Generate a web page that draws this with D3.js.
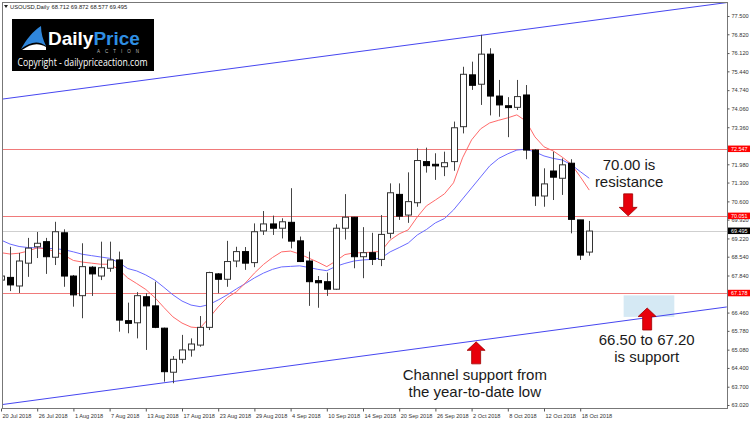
<!DOCTYPE html>
<html lang="en">
<head>
<meta charset="UTF-8">
<title>USOUSD Daily</title>
<script src="https://d3js.org/d3.v7.min.js"></script>
<style>
  body { margin: 0; background: #fff; }
  svg { display: block; font-family: "Liberation Sans", Arial, sans-serif; }
  .axis path { display: none; }
  .axis line { stroke: #555; }
  .axis text { font-size: 5.6px; fill: #333; }
  .note { font-size: 15px; fill: #1a1a1a; }
</style>
</head>
<body>
<div id="chart"></div>
<script>
// one entry per daily bar
const dates = ["20 Jul 2018","23 Jul 2018","24 Jul 2018","25 Jul 2018","26 Jul 2018","27 Jul 2018","30 Jul 2018","31 Jul 2018",
  "1 Aug 2018","2 Aug 2018","3 Aug 2018","6 Aug 2018","7 Aug 2018","8 Aug 2018","9 Aug 2018","10 Aug 2018",
  "13 Aug 2018","14 Aug 2018","15 Aug 2018","16 Aug 2018","17 Aug 2018","20 Aug 2018","21 Aug 2018","22 Aug 2018",
  "23 Aug 2018","24 Aug 2018","27 Aug 2018","28 Aug 2018","29 Aug 2018","30 Aug 2018","31 Aug 2018","3 Sep 2018",
  "4 Sep 2018","5 Sep 2018","6 Sep 2018","7 Sep 2018","10 Sep 2018","11 Sep 2018","12 Sep 2018","13 Sep 2018",
  "14 Sep 2018","17 Sep 2018","18 Sep 2018","19 Sep 2018","20 Sep 2018","21 Sep 2018","24 Sep 2018","25 Sep 2018",
  "26 Sep 2018","27 Sep 2018","28 Sep 2018","1 Oct 2018","2 Oct 2018","3 Oct 2018","4 Oct 2018","5 Oct 2018",
  "8 Oct 2018","9 Oct 2018","10 Oct 2018","11 Oct 2018","12 Oct 2018","15 Oct 2018","16 Oct 2018","17 Oct 2018",
  "18 Oct 2018","19 Oct 2018"];

const opens = [67.67,67.77,67.45,68.30,68.91,69.10,68.52,69.43,67.82,67.09,
  68.15,67.82,68.11,68.42,66.16,66.08,67.05,66.71,65.88,64.24,
  64.72,65.07,65.25,65.91,67.90,67.70,68.38,68.73,68.32,69.50,
  69.76,69.60,69.82,69.13,68.38,67.65,67.61,67.33,69.60,70.01,
  68.54,68.69,68.44,69.41,70.86,70.09,70.55,72.08,71.98,71.89,
  72.08,73.38,75.31,74.96,76.08,74.52,74.16,74.10,74.56,72.51,
  70.80,71.73,71.46,72.02,69.91,68.712];
const highs = [68.60,68.91,68.68,69.24,69.46,69.24,69.84,69.56,67.86,69.04,
  68.19,69.10,69.10,68.73,66.83,67.22,67.18,67.61,65.90,64.84,
  65.63,65.50,66.33,67.98,67.93,69.13,68.91,68.90,69.78,70.24,
  70.07,69.97,71.09,69.29,68.73,67.82,67.95,69.75,70.87,70.02,
  69.64,69.43,70.09,71.27,71.27,71.68,72.57,72.60,72.39,72.45,
  73.57,75.61,75.80,76.80,76.30,75.12,74.48,75.12,74.93,72.55,
  71.83,72.45,72.20,72.17,69.91,69.872];
const lows = [67.38,67.26,67.19,67.79,68.49,67.90,68.23,67.42,66.68,66.25,
  67.08,67.67,67.98,65.75,65.69,65.50,65.07,65.88,63.89,63.83,
  64.57,64.82,65.19,65.81,67.18,67.42,68.15,68.05,68.15,69.35,
  69.35,69.22,68.85,68.34,66.71,66.64,67.08,67.30,69.18,68.11,
  67.74,68.23,68.19,69.22,69.91,69.80,70.40,71.67,71.40,71.54,
  71.74,73.13,74.75,74.19,73.80,73.75,72.99,74.00,72.17,70.43,
  70.40,70.65,70.84,69.41,68.42,68.577];
const closes = [67.82,67.49,68.38,68.86,69.04,68.54,69.47,67.82,67.12,68.17,
  67.90,68.13,68.42,66.18,66.06,67.09,66.71,65.91,64.26,64.72,
  65.07,65.29,65.91,67.95,67.70,68.36,68.73,68.30,69.47,69.76,
  69.60,69.84,69.12,68.36,67.61,67.57,67.33,69.60,70.01,68.54,
  68.69,68.44,69.37,70.92,70.05,70.59,72.12,71.93,71.92,72.04,
  73.34,75.33,74.92,76.08,74.52,74.19,74.09,74.50,72.51,70.80,
  71.25,71.50,71.96,69.93,68.60,69.495];

// moving averages
const maFast = [68.69,68.64,68.67,68.75,68.87,68.83,68.73,68.59,68.40,68.34,
  68.30,68.26,68.26,68.07,67.75,67.54,67.32,67.02,66.65,66.30,
  66.07,65.92,65.89,66.26,66.67,67.02,67.23,67.56,67.93,68.25,
  68.51,68.72,68.75,68.64,68.49,68.34,68.17,68.38,68.62,68.68,
  68.69,68.71,68.74,69.16,69.39,69.54,70.02,70.43,70.65,70.88,
  71.29,72.22,72.89,73.30,73.52,73.62,73.71,73.82,73.59,73.00,
  72.63,72.48,72.25,71.99,71.52,71.02];
const maSlow = [69.16,69.01,68.92,68.88,68.87,68.85,68.84,68.80,68.72,68.63,
  68.58,68.53,68.48,68.33,68.10,68.01,67.86,67.67,67.40,67.12,
  66.89,66.74,66.68,66.76,66.93,67.12,67.34,67.54,67.75,67.93,
  68.07,68.16,68.18,68.20,68.14,68.07,68.02,68.18,68.29,68.38,
  68.42,68.44,68.49,68.72,68.88,69.05,69.35,69.55,69.80,69.96,
  70.28,70.69,71.10,71.51,71.92,72.20,72.37,72.51,72.54,72.44,
  72.29,72.20,72.14,71.97,71.71,71.46];

// ticks hidden behind the level tags are left out
const priceTicks = [77.50,76.82,76.12,75.44,74.74,74.06,73.36,71.98,71.30,70.60,
  69.92,69.22,68.54,67.84,66.46,65.78,65.08,64.40,63.70,63.02];
const levels = [72.547, 70.051, 67.178];
const lastPrice = 69.495;

const upperChannel = [{bar: 0, price: 74.40}, {bar: 80.2, price: 78.00}];
const lowerChannel = [{bar: 0, price: 63.03}, {bar: 80.2, price: 66.67}];
const supportZone = {from: 68.8, to: 74.4, low: 66.30, high: 67.10};

const notes = [
  {lines: ["70.00 is", "resistance"], bar: 69.4, price: 71.77},
  {lines: ["66.50 to 67.20", "is support"], bar: 71.35, price: 65.27},
  {lines: ["Channel support from", "the year-to-date low"], bar: 52.35, price: 63.94}
];
const arrows = [
  {bar: 69.3, price: 70.06, dir: "down"},
  {bar: 71.4, price: 66.63, dir: "up"},
  {bar: 52.5, price: 65.37, dir: "up"}
];

const W = 750, H = 421;
const pLeft = 2, pTop = 2, pRight = 727, pBottom = 408;

const svg = d3.select("#chart").append("svg")
  .attr("width", W).attr("height", H);

svg.append("rect").attr("width", W).attr("height", H).attr("fill", "#fff");

const x = d3.scaleLinear().domain([0, 80]).range([1, 725]);
const y = d3.scaleLinear().domain([63.02, 77.5]).range([405, 16]);

svg.append("clipPath").attr("id", "plotclip")
  .append("rect").attr("x", pLeft).attr("y", pTop)
  .attr("width", pRight - pLeft).attr("height", pBottom - pTop);

const plot = svg.append("g").attr("clip-path", "url(#plotclip)");

// horizontal levels
plot.selectAll(".level").data(levels).join("line")
  .attr("x1", pLeft).attr("x2", pRight)
  .attr("y1", d => Math.round(y(d)) + 0.5).attr("y2", d => Math.round(y(d)) + 0.5)
  .attr("stroke", "#f07a7a").attr("stroke-width", 1);

plot.append("line")
  .attr("x1", pLeft).attr("x2", pRight)
  .attr("y1", Math.round(y(lastPrice)) + 0.5).attr("y2", Math.round(y(lastPrice)) + 0.5)
  .attr("stroke", "#cfcfcf");

// support zone box
plot.append("rect")
  .attr("x", x(supportZone.from)).attr("width", x(supportZone.to) - x(supportZone.from))
  .attr("y", y(supportZone.high)).attr("height", y(supportZone.low) - y(supportZone.high))
  .attr("fill", "#d5e9f4");

// channel lines
const chan = d3.line().x(d => x(d.bar)).y(d => y(d.price));
[upperChannel, lowerChannel].forEach(c => {
  plot.append("path").attr("d", chan(c))
    .attr("fill", "none").attr("stroke", "#4646f0").attr("stroke-width", 1);
});

// moving averages
const maLine = d3.line().x((d, i) => x(i)).y(d => y(d));
plot.append("path").attr("d", maLine(maSlow))
  .attr("fill", "none").attr("stroke", "#6a6aff").attr("stroke-width", 1);
plot.append("path").attr("d", maLine(maFast))
  .attr("fill", "none").attr("stroke", "#ff6a6a").attr("stroke-width", 1);

// candles
const bars = dates.map((d, i) => ({i, o: opens[i], h: highs[i], l: lows[i], c: closes[i]}));

plot.selectAll(".wick").data(bars).join("line")
  .attr("x1", d => Math.round(x(d.i)) + 0.5).attr("x2", d => Math.round(x(d.i)) + 0.5)
  .attr("y1", d => y(d.h)).attr("y2", d => y(d.l))
  .attr("stroke", "#444");

plot.selectAll(".body").data(bars).join("rect")
  .attr("x", d => Math.round(x(d.i)) - 2.5)
  .attr("width", 6)
  .attr("y", d => y(Math.max(d.o, d.c)))
  .attr("height", d => Math.max(1, Math.abs(y(d.o) - y(d.c))))
  .attr("fill", d => d.c >= d.o ? "#fff" : "#000")
  .attr("stroke", d => d.c >= d.o ? "#333" : "#000")
  .attr("stroke-width", 1);

// arrows
function arrowPath(d) {
  const cx = x(d.bar), ty = y(d.price), s = d.dir === "down" ? -1 : 1;
  const shaft = 4.5, head = 9, headLen = 8.5, len = 22;
  const p = d3.path();
  p.moveTo(cx, ty);
  p.lineTo(cx + head, ty + s * headLen);
  p.lineTo(cx + shaft, ty + s * headLen);
  p.lineTo(cx + shaft, ty + s * len);
  p.lineTo(cx - shaft, ty + s * len);
  p.lineTo(cx - shaft, ty + s * headLen);
  p.lineTo(cx - head, ty + s * headLen);
  p.closePath();
  return p.toString();
}
svg.selectAll(".arrow").data(arrows).join("path")
  .attr("d", arrowPath)
  .attr("fill", "#e8000b").attr("stroke", "#a00000").attr("stroke-width", 0.8);

// annotation text
notes.forEach(n => {
  const t = svg.append("text").attr("class", "note")
    .attr("text-anchor", "middle")
    .attr("x", x(n.bar)).attr("y", y(n.price));
  n.lines.forEach((line, k) => {
    t.append("tspan").attr("x", x(n.bar)).attr("dy", k === 0 ? 0 : 17).text(line);
  });
});

// frame
svg.append("rect").attr("x", pLeft + 0.5).attr("y", pTop + 0.5)
  .attr("width", pRight - pLeft).attr("height", pBottom - pTop)
  .attr("fill", "none").attr("stroke", "#777");

// price axis
svg.append("g").attr("class", "axis")
  .attr("transform", `translate(${pRight + 0.5},0)`)
  .call(d3.axisRight(y).tickValues(priceTicks).tickSize(2).tickPadding(2)
    .tickFormat(d3.format(".3f")));

// level tags on the axis
const tags = levels.map(v => ({v, fill: "#ff0000"})).concat([{v: lastPrice, fill: "#000"}]);
const tag = svg.selectAll(".tag").data(tags).join("g")
  .attr("transform", d => `translate(${pRight + 1},${y(d.v)})`);
tag.append("rect").attr("x", 0).attr("y", -3.5).attr("width", 22).attr("height", 6.5)
  .attr("fill", d => d.fill);
tag.append("text").attr("x", 3).attr("dy", "0.3em")
  .attr("font-size", 5.4).attr("fill", "#fff")
  .text(d => d3.format(".3f")(d.v));

// date axis
svg.append("g").attr("class", "axis")
  .attr("transform", `translate(0,${pBottom + 0.5})`)
  .call(d3.axisBottom(x).tickValues(d3.range(0, dates.length, 4)).tickSize(3).tickPadding(3)
    .tickFormat(i => dates[i]))
  .selectAll("text").attr("text-anchor", "start").attr("dx", 1);

// header
svg.append("path").attr("d", "M4,5 L8,5 L6,8 Z").attr("fill", "#222");
svg.append("text").attr("x", 10).attr("y", 8.5).attr("font-size", 5.8).attr("fill", "#222")
  .text("USOUSD,Daily");
svg.append("text").attr("x", 51.5).attr("y", 8.5).attr("font-size", 5.8).attr("fill", "#222")
  .text([opens[65], highs[65], lows[65], closes[65]].map(d3.format(".3f")).join(" "));

// logo
const logo = svg.append("g");
logo.append("rect").attr("x", 12).attr("y", 19).attr("width", 142).attr("height", 52).attr("fill", "#000");
logo.append("path").attr("d", "M21,49 C26,40 33,31 41,26 C41,33 43,40 46,46 C38,40 30,42 21,49 Z")
  .attr("fill", "#2f86db");
logo.append("path").attr("d", "M22,50 C30,44 38,42 46,47 L46,50 Z").attr("fill", "#fff");
logo.append("text").attr("x", 48).attr("y", 44.5).attr("font-size", 19).attr("font-weight", "bold")
  .attr("fill", "#fff").text("Daily")
  .append("tspan").attr("fill", "#2f8fe3").text("Price");
logo.append("text").attr("x", 97).attr("y", 53).attr("font-size", 4.5).attr("fill", "#bbb")
  .attr("textLength", 42).attr("lengthAdjust", "spacing").text("ACTION");
logo.append("text").attr("x", 17.5).attr("y", 65.5).attr("font-size", 10.5).attr("fill", "#fff")
  .attr("font-family", "'Open Sans', sans-serif")
  .attr("textLength", 130).attr("lengthAdjust", "spacingAndGlyphs")
  .text("Copyright - dailypriceaction.com");
</script>
</body>
</html>
